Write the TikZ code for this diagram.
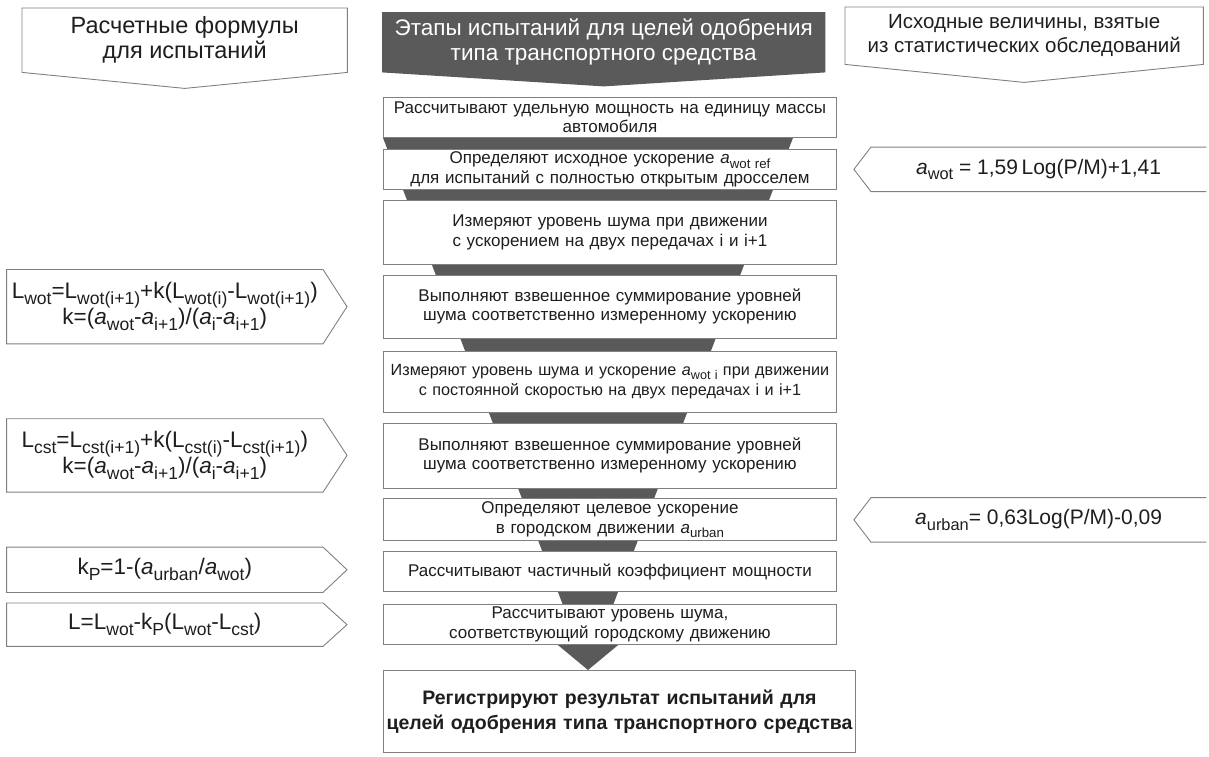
\documentclass[tikz,border=0pt]{standalone}
\usepackage{fontspec}
\setmainfont{Liberation Sans}
\usetikzlibrary{positioning,backgrounds}

\definecolor{ink}{HTML}{1E1E1E}
\definecolor{frame}{HTML}{808080}
\definecolor{funnel}{HTML}{5A5A5A}

\newcommand{\lo}[1]{\raisebox{-0.26em}{\scalebox{0.78}{#1}}}
\newcommand{\va}{\textit{a}}

\begin{document}
\begin{tikzpicture}[
  x=1pt, y=-1pt,
  text=ink,
  node distance=10pt,
  stage/.style={draw=frame, line width=0.9pt, fill=white, align=center, inner sep=2pt,
    text width=449pt, font=\fontsize{17}{19.5}\selectfont},
  formula/.style={align=center, inner sep=2pt, minimum width=316pt, font=\fontsize{22.5}{26}\selectfont},
  source/.style={align=center, inner sep=2pt, minimum width=335pt, font=\fontsize{21}{24}\selectfont},
  head/.style={align=center, inner sep=2pt, font=\fontsize{22.5}{25}\selectfont},
  outline/.style={draw=frame, line width=0.9pt}
]
\useasboundingbox (0,0) rectangle (1209,756);

% headers
\node[head, anchor=north west, minimum width=325pt, minimum height=64pt,
  font=\fontsize{23.5}{25}\selectfont] (hl) at (22,8) {Расчетные формулы\\для испытаний};
\node[head, anchor=north west, minimum width=443pt, minimum height=60pt] (hc) at (382,12) {};
\node[head, anchor=north west, minimum width=358pt, minimum height=57pt,
  font=\fontsize{20.5}{24}\selectfont] (hr) at (845,7) {Исходные величины, взятые\\из статистических обследований};
\foreach \h/\d in {hl/16, hr/18}
  \draw[outline] (\h.north west) -- (\h.north east) -- (\h.south east) -- ([yshift=-\d pt]\h.south) -- (\h.south west) -- cycle;
\fill[funnel] (hc.north west) -- (hc.north east) -- (hc.south east) -- ([yshift=-14pt]hc.south) -- (hc.south west) -- cycle;
\node[head, text=white] at (hc) {Этапы испытаний для целей одобрения\\типа транспортного средства};

% stages
\node[stage, anchor=north west, minimum height=40pt] (s1) at (383,97) {Рассчитывают удельную мощность на единицу массы\\автомобиля};
\node[stage, below=11pt of s1, minimum height=40pt] (s2) {Определяют исходное ускорение \va\lo{wot ref}\\для испытаний с полностью открытым дросселем};
\node[stage, below=of s2, minimum height=64pt] (s3) {Измеряют уровень шума при движении\\с ускорением на двух передачах i и i+1};
\node[stage, below=of s3, minimum height=63pt] (s4) {Выполняют взвешенное суммирование уровней\\шума соответственно измеренному ускорению};
\node[stage, below=12pt of s4, minimum height=61pt, font=\fontsize{16.2}{19.5}\selectfont] (s5) {\makebox[449pt]{Измеряют уровень шума и ускорение \va\lo{wot i} при движении}\\с постоянной скоростью на двух передачах i и i+1};
\node[stage, below=of s5, minimum height=65pt] (s6) {Выполняют взвешенное суммирование уровней\\шума соответственно измеренному ускорению};
\node[stage, below=of s6, minimum height=42pt] (s7) {Определяют целевое ускорение\\в городском движении \va\lo{urban}};
\node[stage, below=of s7, minimum height=40pt] (s8) {Рассчитывают частичный коэффициент мощности};
\node[stage, below=12pt of s8, minimum height=40pt] (s9) {Рассчитывают уровень шума,\\соответствующий городскому движению};
\node[stage, anchor=north west, text width=468pt, minimum height=82pt,
  font=\fontsize{19.5}{25}\selectfont\bfseries] (fin) at (383,670) {Регистрируют результат испытаний для\\целей одобрения типа транспортного средства};

% funnel behind the stages
\coordinate (tip) at (588,670);
\begin{scope}[on background layer]
  \fill[funnel] (s1.south west) -- ([xshift=410pt]s1.south west) -- (tip) -- cycle;
  \fill[funnel] ([xshift=-30pt]tip |- s9.south) -- ([xshift=30pt]tip |- s9.south) -- (tip) -- cycle;
\end{scope}

% formulas for the tests
\node[formula, left=60pt of s4, minimum height=74pt] (f1) {L\lo{wot}=L\lo{wot(i+1)}+k(L\lo{wot(i)}-L\lo{wot(i+1)})\\k=(\va\lo{wot}-\va\lo{i+1})/(\va\lo{i}-\va\lo{i+1})};
\node[formula, left=60pt of s6, minimum height=73pt] (f2) {L\lo{cst}=L\lo{cst(i+1)}+k(L\lo{cst(i)}-L\lo{cst(i+1)})\\k=(\va\lo{wot}-\va\lo{i+1})/(\va\lo{i}-\va\lo{i+1})};
\node[formula, left=60pt of s8, minimum height=45pt, yshift=2pt] (f3) {k\lo{P}=1-(\va\lo{urban}/\va\lo{wot})};
\node[formula, left=60pt of s9, minimum height=43pt] (f4) {L=L\lo{wot}-k\lo{P}(L\lo{wot}-L\lo{cst})};
\foreach \f in {f1,f2,f3,f4}
  \draw[outline] (\f.north west) -- (\f.north east) -- ([xshift=24pt]\f.east) -- (\f.south east) -- (\f.south west) -- cycle;

% source values
\node[source, right=34pt of s2, minimum height=44pt] (r1) {\va\lo{wot} = 1,59\,Log(P/M)+1,41};
\node[source, right=34pt of s7, minimum height=44pt] (r2) {\va\lo{urban}= 0,63Log(P/M)-0,09};
\foreach \r in {r1,r2}
  \draw[outline] (\r.north east) -- (\r.north west) -- ([xshift=-17pt]\r.west) -- (\r.south west) -- (\r.south east);
\end{tikzpicture}
\end{document}
